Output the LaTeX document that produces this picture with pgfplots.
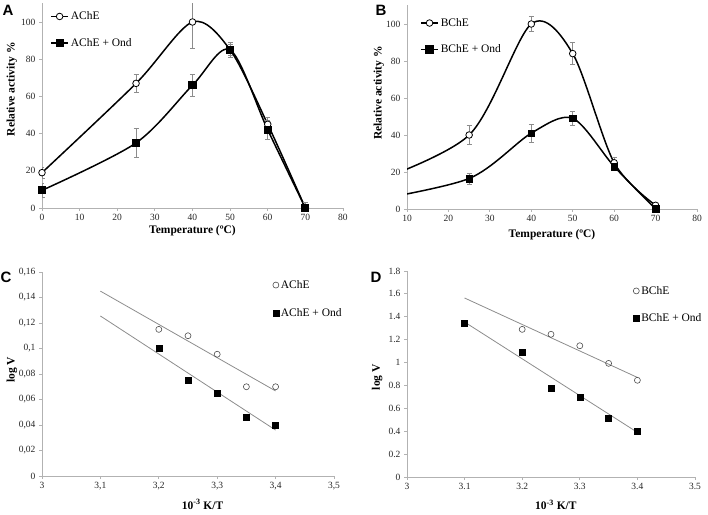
\documentclass[border=0pt]{standalone}
\usepackage{pgfplots}
\pgfplotsset{compat=1.18}
\usepackage{fontspec}
\setmainfont{Liberation Serif}
\newfontfamily\sansfam{Liberation Sans}
\begin{document}
\begin{tikzpicture}
\path[use as bounding box] (0pt,0pt) rectangle (708pt,514pt);
\pgfplotsset{
 panel/.style={scale only axis, anchor=south west,
  axis x line*=bottom, axis y line*=left,
  axis line style={black!30, line width=0.8pt},
  tick style={black!30, line width=0.8pt}, tick align=outside, major tick length=3pt,
  ticklabel style={font=\fontsize{9.5}{10}\selectfont, text=black!85},
  /pgf/number format/assume math mode=true,
  label style={font=\bfseries\fontsize{11.5}{12}\selectfont},
  legend style={draw=none, fill=none, anchor=north west, font=\fontsize{11.5}{12}\selectfont, row sep=13pt, inner sep=0pt},
  legend cell align=left,
 },
 ebar/.style={error bars/y dir=both, error bars/y explicit,
  error bars/error bar style={black!45, line width=0.6pt},
  error bars/error mark options={rotate=90, black!45, mark size=2.5pt, line width=0.6pt}},
}
% ---------------- A ----------------
\begin{axis}[panel, at={(42pt,306pt)}, width=301pt, height=204.6pt,
 xmin=0, xmax=80, ymin=0, ymax=110, xtick={0,10,...,80}, ytick={0,20,...,100},
 xlabel={Temperature (ºC)}, ylabel={Relative activity \%},
 xlabel style={at={(axis description cs:0.5,-0.11)}, anchor=center},
 ylabel style={at={(axis description cs:-0.1,0.58)}, anchor=center},
 legend style={at={(axis description cs:0.027,0.97)}}]
\addlegendimage{black, line width=1.5pt, mark=*, mark size=3.3pt, mark options={fill=white, draw=black, line width=0.8pt}}
\addlegendentry{AChE}
\addlegendimage{black, line width=1.5pt, mark=square*, mark size=3.3pt, mark options={fill=black}}
\addlegendentry{AChE + Ond}
\addplot[black, line width=1.5pt, smooth, mark=*, mark size=3.3pt, mark options={fill=white, draw=black, line width=0.8pt}, forget plot, ebar]
 table[x=x, y=y, y error=e] {
 x y e
 0 19 3
 25 67 5
 40 100 14
 50 85 4
 60 45 4
 70 0 3
 };
\addplot[black, line width=1.5pt, smooth, mark=square*, mark size=3.3pt, mark options={fill=black}, forget plot, ebar]
 table[x=x, y=y, y error=e] {
 x y e
 0 9.5 4
 25 35 8
 40 66 6
 50 85 3
 60 42 5
 70 0 3
 };
\end{axis}
% ---------------- B ----------------
\begin{axis}[panel, at={(407pt,305pt)}, width=290pt, height=203.5pt,
 xmin=10, xmax=80, ymin=0, ymax=110, xtick={10,20,...,80}, ytick={0,20,...,100},
 xlabel={Temperature (ºC)}, ylabel={Relative activity \%},
 xlabel style={at={(axis description cs:0.5,-0.128)}, anchor=center},
 ylabel style={at={(axis description cs:-0.097,0.57)}, anchor=center},
 legend style={at={(axis description cs:0.045,0.948)}}]
\addlegendimage{black, line width=1.5pt, mark=*, mark size=3.3pt, mark options={fill=white, draw=black, line width=0.8pt}}
\addlegendentry{BChE}
\addlegendimage{black, line width=1.5pt, mark=square*, mark size=3.3pt, mark options={fill=black}}
\addlegendentry{BChE + Ond}
\addplot[black, line width=1.5pt, smooth, forget plot] coordinates {(0,13) (25,40) (40,100) (50,84) (60,25) (70,2)};
\addplot[black, line width=1.5pt, smooth, forget plot] coordinates {(0,4) (25,16.5) (40,41) (50,49) (60,23) (70,0)};
\addplot[only marks, mark=*, mark size=3.3pt, mark options={fill=white, draw=black, line width=0.8pt}, forget plot, ebar]
 table[x=x, y=y, y error=e] {
 x y e
 25 40 5
 40 100 4
 50 84 6
 60 25 3
 70 2 1
 };
\addplot[only marks, mark=square*, mark size=3.3pt, mark options={fill=black}, forget plot, ebar]
 table[x=x, y=y, y error=e] {
 x y e
 25 16.5 3
 40 41 5
 50 49 4
 60 23 2
 70 0 1
 };
\end{axis}
% ---------------- C ----------------
\begin{axis}[panel, at={(42pt,38pt)}, width=292pt, height=204pt,
 xmin=3, xmax=3.5, ymin=0, ymax=0.16,
 xtick={3,3.1,3.2,3.3,3.4,3.5}, xticklabels={3,{3,1},{3,2},{3,3},{3,4},{3,5}},
 ytick={0,0.02,0.04,0.06,0.08,0.1,0.12,0.14,0.16},
 yticklabels={0,{0,02},{0,04},{0,06},{0,08},{0,1},{0,12},{0,14},{0,16}},
 xlabel={10\textsuperscript{-3} K/T}, ylabel={log V},
 xlabel style={at={(axis description cs:0.55,-0.14)}, anchor=center},
 ylabel style={at={(axis description cs:-0.103,0.52)}, anchor=center},
 legend style={at={(axis description cs:0.79,0.97)}, row sep=15pt}]
\addplot[only marks, mark=o, mark size=3pt, black!70, line width=0.6pt] coordinates {(3.2,0.115) (3.25,0.110) (3.3,0.0955) (3.35,0.070) (3.4,0.070)};
\addlegendentry{AChE}
\addplot[only marks, mark=square*, mark size=3pt, black] coordinates {(3.2,0.1004) (3.25,0.075) (3.3,0.065) (3.35,0.046) (3.4,0.040)};
\addlegendentry{AChE + Ond}
\addplot[black!45, line width=0.8pt, forget plot] coordinates {(3.1,0.145) (3.4,0.0667)};
\addplot[black!45, line width=0.8pt, forget plot] coordinates {(3.1,0.1255) (3.4,0.036)};
\end{axis}
% ---------------- D ----------------
\begin{axis}[panel, at={(407pt,37pt)}, width=288pt, height=206pt,
 xmin=3, xmax=3.5, ymin=0, ymax=1.8,
 xtick={3,3.1,3.2,3.3,3.4,3.5}, xticklabels={3,3.1,3.2,3.3,3.4,3.5},
 ytick={0,0.2,...,1.8}, yticklabels={0,0.2,0.4,0.6,0.8,1,1.2,1.4,1.6,1.8},
 xlabel={10\textsuperscript{-3} K/T}, ylabel={log V},
 xlabel style={at={(axis description cs:0.517,-0.135)}, anchor=center},
 ylabel style={at={(axis description cs:-0.104,0.485)}, anchor=center},
 legend style={at={(axis description cs:0.785,0.937)}, row sep=14pt}]
\addplot[only marks, mark=o, mark size=3pt, black!70, line width=0.6pt] coordinates {(3.2,1.29) (3.25,1.247) (3.3,1.147) (3.35,0.993) (3.4,0.845)};
\addlegendentry{BChE}
\addplot[only marks, mark=square*, mark size=3pt, black] coordinates {(3.1,1.348) (3.2,1.092) (3.25,0.778) (3.3,0.696) (3.35,0.518) (3.4,0.399)};
\addlegendentry{BChE + Ond}
\addplot[black!45, line width=0.8pt, forget plot] coordinates {(3.1,1.564) (3.4,0.87)};
\addplot[black!45, line width=0.8pt, forget plot] coordinates {(3.1,1.354) (3.4,0.39)};
\end{axis}
% panel letters
\node[font=\sansfam\bfseries\fontsize{15}{15}\selectfont] at (8pt,504pt) {A};
\node[font=\sansfam\bfseries\fontsize{15}{15}\selectfont] at (381pt,504pt) {B};
\node[font=\sansfam\bfseries\fontsize{15}{15}\selectfont] at (6pt,237pt) {C};
\node[font=\sansfam\bfseries\fontsize{15}{15}\selectfont] at (376pt,237pt) {D};
\end{tikzpicture}
\end{document}
